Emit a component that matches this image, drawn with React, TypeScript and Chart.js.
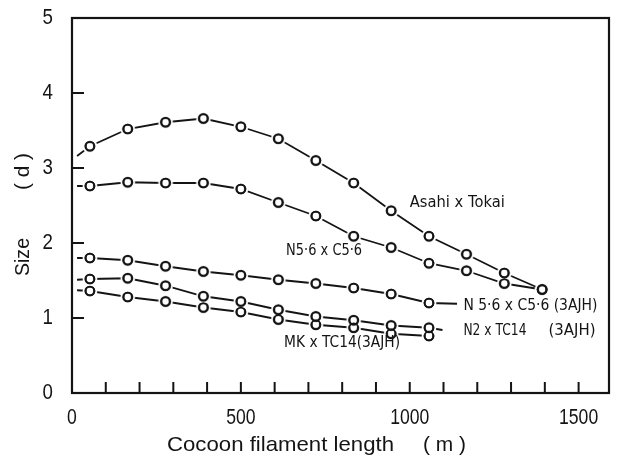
import React, { useEffect, useRef } from 'react';
import { Chart, registerables } from 'chart.js';

Chart.register(...registerables);

// ---- data ----
const lengths = [53, 165, 277, 389, 500, 611, 722, 834, 945, 1057, 1168, 1280, 1392];
const leadLength = 15;

const asahiTokai = [3.29, 3.52, 3.61, 3.66, 3.55, 3.39, 3.1, 2.8, 2.43, 2.09, 1.85, 1.6, 1.38];
const asahiTokaiLead = 3.16;

const n56c56 = [2.76, 2.81, 2.8, 2.8, 2.72, 2.54, 2.36, 2.09, 1.94, 1.73, 1.63, 1.46, 1.38];
const n56c56Lead = 2.76;

const n56c56Ajh = [1.8, 1.77, 1.69, 1.62, 1.57, 1.51, 1.46, 1.4, 1.32, 1.2];
const n56c56AjhLead = 1.8;
const n56c56AjhTail = { x: 1140, y: 1.19 };

const n2tc14Ajh = [1.52, 1.53, 1.43, 1.29, 1.22, 1.11, 1.02, 0.97, 0.9, 0.87];
const n2tc14AjhLead = 1.51;
const n2tc14AjhTail = { x: 1097, y: 0.84 };

const mktc14Ajh = [1.36, 1.28, 1.22, 1.14, 1.08, 0.98, 0.91, 0.87, 0.79, 0.76];
const mktc14AjhLead = 1.37;

const xTickLabels = [0, 500, 1000, 1500];
const xMinorTicks = [100, 200, 300, 400, 500, 600, 700, 800, 900, 1000, 1100, 1200, 1300, 1400, 1500];
const yTickLabels = [0, 1, 2, 3, 4, 5];
const yMinorTicks = [1, 2, 3, 4];

const curveLabels = [
  { text: 'Asahi x Tokai', x: 1000, y: 2.53 },
  { text: 'N5·6 x C5·6', x: 634, y: 1.89 },
  { text: 'N 5·6 x C5·6 (3AJH)', x: 1159, y: 1.16 },
  { text: 'N2 x TC14', x: 1159, y: 0.82 },
  { text: '(3AJH)', x: 1411, y: 0.82 },
  { text: 'MK x TC14(3AJH)', x: 628, y: 0.67 },
];
const curveLabelWidths = [95, 76, 134, 63, 47, 116];

const xTitle = ['Cocoon filament length', '( m )'];
const yTitle = ['Size', '( d )'];

// ---- styling ----
const INK = '#141414';
const RING = 4.4;
const SANS = "'Liberation Sans', Arial, sans-serif";
const LABEL_FONT = "15px 'DejaVu Sans', 'Liberation Sans', sans-serif";

function makeMarker() {
  const cv = document.createElement('canvas');
  cv.width = 18;
  cv.height = 18;
  const c = cv.getContext('2d')!;
  c.fillStyle = '#ffffff';
  c.beginPath();
  c.arc(9, 9, 7.4, 0, Math.PI * 2);
  c.fill();
  c.strokeStyle = INK;
  c.lineWidth = 1.9;
  c.beginPath();
  c.arc(9, 9, RING, 0, Math.PI * 2);
  c.stroke();
  return cv;
}

function fitText(
  ctx: CanvasRenderingContext2D,
  text: string,
  x: number,
  cy: number,
  width: number,
  font: string,
  align: 'left' | 'center' | 'right' = 'left'
) {
  ctx.save();
  ctx.font = font;
  ctx.textAlign = align;
  ctx.textBaseline = 'middle';
  const w = ctx.measureText(text).width;
  ctx.translate(x, cy);
  ctx.scale(width / w, 1);
  ctx.fillText(text, 0, 0);
  ctx.restore();
}

function scaledText(
  ctx: CanvasRenderingContext2D,
  text: string,
  x: number,
  cy: number,
  sx: number,
  font: string,
  align: 'left' | 'center' | 'right'
) {
  ctx.save();
  ctx.font = font;
  ctx.textAlign = align;
  ctx.textBaseline = 'middle';
  ctx.translate(x, cy);
  ctx.scale(sx, 1);
  ctx.fillText(text, 0, 0);
  ctx.restore();
}

const paperPlugin = {
  id: 'paper',
  beforeDatasetsDraw(chart: any) {
    const { ctx, chartArea: a, scales } = chart;
    ctx.save();
    ctx.strokeStyle = INK;
    ctx.lineWidth = 2.2;
    ctx.strokeRect(a.left, a.top, a.right - a.left, a.bottom - a.top);
    ctx.lineWidth = 2;
    ctx.beginPath();
    for (const v of xMinorTicks) {
      const px = scales.x.getPixelForValue(v);
      ctx.moveTo(px, a.bottom);
      ctx.lineTo(px, a.bottom - 11);
    }
    for (const v of yMinorTicks) {
      const py = scales.y.getPixelForValue(v);
      ctx.moveTo(a.left, py);
      ctx.lineTo(a.left + 12, py);
    }
    ctx.stroke();

    // tick labels from the library's scales
    ctx.fillStyle = INK;
    const tickFont = `22px ${SANS}`;
    for (const t of scales.x.ticks) {
      scaledText(ctx, String(t.value), scales.x.getPixelForValue(t.value), a.bottom + 25, 0.8, tickFont, 'center');
    }
    for (const t of scales.y.ticks) {
      scaledText(ctx, String(t.value), a.left - 19, scales.y.getPixelForValue(t.value), 0.85, tickFont, 'right');
    }
    ctx.restore();
  },
  afterDatasetsDraw(chart: any) {
    const { ctx, scales } = chart;
    ctx.save();
    ctx.strokeStyle = INK;
    ctx.lineWidth = 1.9;
    chart.data.datasets.forEach((ds: any, i: number) => {
      const meta = chart.getDatasetMeta(i);
      meta.data.forEach((pt: any, j: number) => {
        if (ds.pointRadius[j] > 0) {
          ctx.beginPath();
          ctx.arc(pt.x, pt.y, RING, 0, Math.PI * 2);
          ctx.stroke();
        }
      });
    });
    ctx.fillStyle = INK;
    curveLabels.forEach((l, i) => {
      fitText(ctx, l.text, scales.x.getPixelForValue(l.x), scales.y.getPixelForValue(l.y), curveLabelWidths[i], LABEL_FONT);
    });
    // axis titles
    const a = chart.chartArea;
    fitText(ctx, xTitle[0], a.left + 95, 445, 227, `21px ${SANS}`);
    fitText(ctx, xTitle[1], a.left + 351, 445, 43, `21px ${SANS}`);
    ctx.save();
    ctx.translate(23, 0);
    ctx.rotate(-Math.PI / 2);
    fitText(ctx, yTitle[0], -276, 0, 38, `21px ${SANS}`);
    fitText(ctx, yTitle[1], -190, 0, 37, `21px ${SANS}`);
    ctx.restore();
    ctx.restore();
  },
};

function buildSeries(lead: number, values: number[], tail: { x: number; y: number } | null) {
  const pts = [{ x: leadLength, y: lead }, ...values.map((y, i) => ({ x: lengths[i], y }))];
  const radii = [0, ...values.map(() => 4.5)];
  if (tail) {
    pts.push({ x: tail.x, y: tail.y });
    radii.push(0);
  }
  return { pts, radii };
}

export default function App() {
  const ref = useRef<HTMLCanvasElement | null>(null);

  useEffect(() => {
    if (!ref.current) return;
    const marker = makeMarker();

    const seriesDefs = [
      buildSeries(asahiTokaiLead, asahiTokai, null),
      buildSeries(n56c56Lead, n56c56, null),
      buildSeries(n56c56AjhLead, n56c56Ajh, n56c56AjhTail),
      buildSeries(n2tc14AjhLead, n2tc14Ajh, n2tc14AjhTail),
      buildSeries(mktc14AjhLead, mktc14Ajh, null),
    ];
    const names = ['Asahi x Tokai', 'N5·6 x C5·6', 'N 5·6 x C5·6 (3AJH)', 'N2 x TC14 (3AJH)', 'MK x TC14(3AJH)'];

    const chart = new Chart(ref.current, {
      type: 'line',
      data: {
        datasets: seriesDefs.map((s, i) => ({
          label: names[i],
          data: s.pts,
          borderColor: INK,
          borderWidth: 1.8,
          tension: 0,
          fill: false,
          pointStyle: marker,
          pointRadius: s.radii,
          pointHoverRadius: s.radii,
        })),
      },
      options: {
        animation: false,
        responsive: false,
        devicePixelRatio: 1,
        events: [],
        layout: { padding: { top: 18, right: 9, left: 0, bottom: 0 } },
        plugins: { legend: { display: false }, tooltip: { enabled: false } },
        scales: {
          x: {
            type: 'linear',
            min: 0,
            max: 1590,
            afterBuildTicks: (s: any) => {
              s.ticks = xTickLabels.map((v) => ({ value: v }));
            },
            afterFit: (s: any) => {
              s.height = 66;
            },
            grid: { display: false },
            border: { display: false },
            ticks: { display: false },
          },
          y: {
            type: 'linear',
            min: 0,
            max: 5,
            afterBuildTicks: (s: any) => {
              s.ticks = yTickLabels.map((v) => ({ value: v }));
            },
            afterFit: (s: any) => {
              s.width = 72;
            },
            grid: { display: false },
            border: { display: false },
            ticks: { display: false },
          },
        },
      },
      plugins: [paperPlugin],
    } as any);
    return () => chart.destroy();
  }, []);

  return (
    <div style={{ position: 'absolute', left: 0, top: 0, width: 618, height: 459, background: '#fff' }}>
      <canvas ref={ref} width={618} height={459} style={{ width: 618, height: 459, display: 'block' }} />
    </div>
  );
}
